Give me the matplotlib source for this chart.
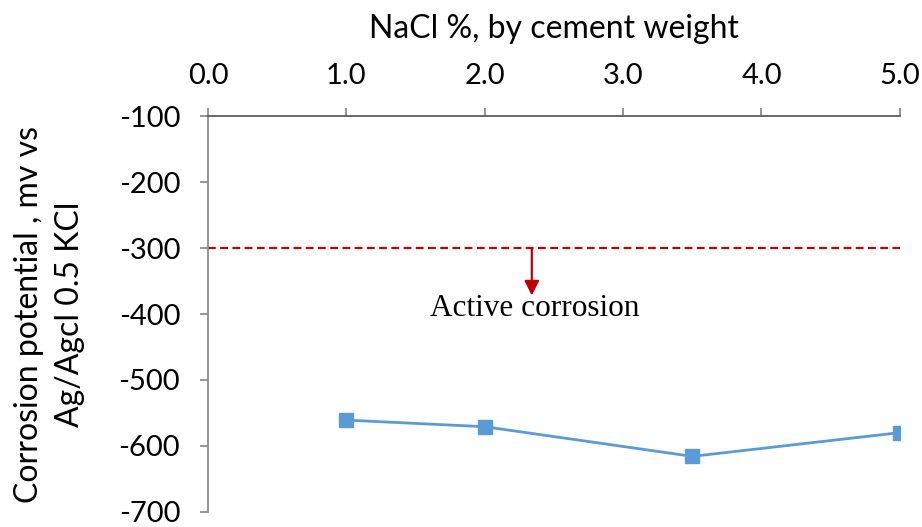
import matplotlib
matplotlib.use("Agg")
import matplotlib.pyplot as plt

nacl = [1.0, 2.0, 3.5, 5.0]
potential = [-561, -571, -616, -580]
xticks = [0.0, 1.0, 2.0, 3.0, 4.0, 5.0]
yticks = [-100, -200, -300, -400, -500, -600, -700]
threshold = -300

FONT = "Lato"

fig = plt.figure(figsize=(9.22, 5.27), dpi=100)
ax = fig.add_axes([0.2256, 0.029, 0.976 - 0.2256, 0.7793 - 0.029])

ax.plot(nacl, potential, color="#5B9BD5", lw=2, marker="s", markersize=10,
        markeredgecolor="#5B9BD5", zorder=3)
ax.axhline(threshold, color="#C00000", lw=1.6, ls=(0, (3.5, 2)))
ax.annotate("", xy=(2.34, -372), xytext=(2.34, threshold),
            arrowprops=dict(arrowstyle="-|>", color="#C00000", lw=1.6,
                            mutation_scale=22, shrinkA=0, shrinkB=0))
ax.text(2.36, -392, "Active corrosion", ha="center", va="center",
        fontsize=22.5, family="Liberation Serif")

ax.set_xlim(0, 5)
ax.set_ylim(-700, -100)
ax.xaxis.tick_top()
ax.xaxis.set_label_position("top")
ax.set_xticks(xticks)
ax.set_xticklabels([f"{v:.1f}" for v in xticks])
ax.set_yticks(yticks)
ax.set_yticklabels([str(v) for v in yticks])
for s in ["right", "bottom"]:
    ax.spines[s].set_visible(False)
ax.spines["top"].set_color("#595959")
ax.spines["left"].set_color("#8c8c8c")
for s in ["top", "left"]:
    ax.spines[s].set_linewidth(1.3)
ax.tick_params(axis="both", direction="out", length=6, width=1.3, color="#8c8c8c",
               labelsize=21, pad=14)
for lab in ax.get_xticklabels() + ax.get_yticklabels():
    lab.set_family(FONT)
ax.set_xlabel("NaCl %, by cement weight", fontsize=23, family=FONT, labelpad=18)
ax.set_ylabel("Corrosion potential , mv vs\nAg/Agcl 0.5 KCl", fontsize=23,
              family=FONT, labelpad=24, linespacing=1.45)

fig.savefig("out.png", dpi=100)
